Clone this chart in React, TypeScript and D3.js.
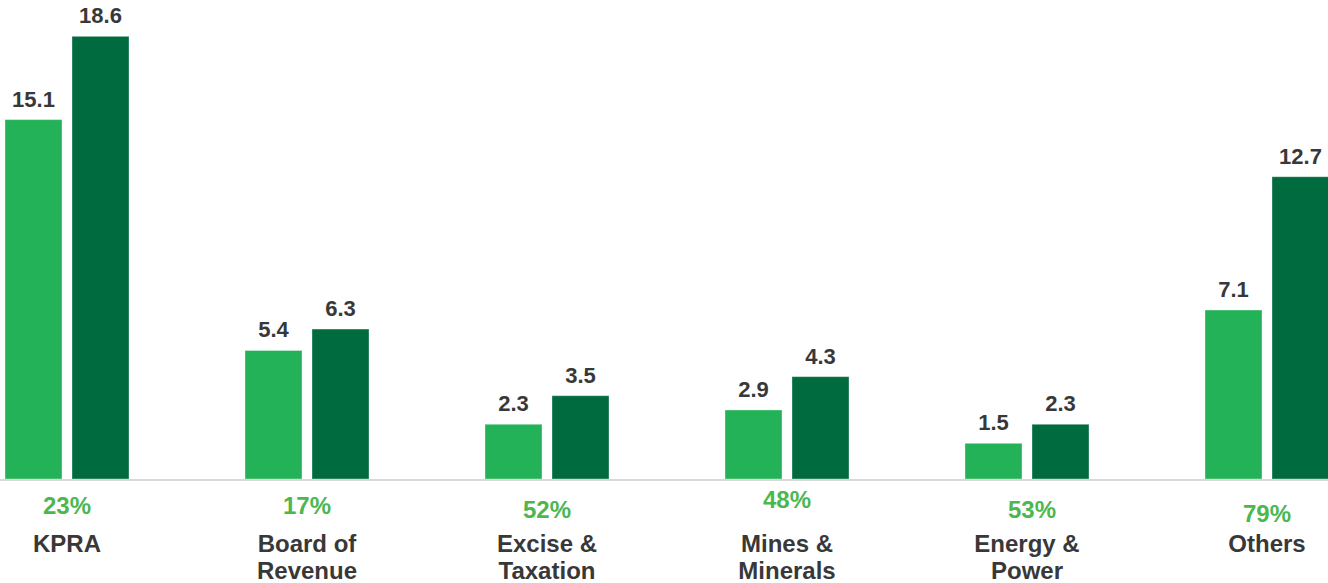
import React, { useEffect, useRef } from 'react'
import * as d3 from 'd3'

const categories = ['KPRA', 'Board of Revenue', 'Excise & Taxation', 'Mines & Minerals', 'Energy & Power', 'Others']
const seriesKeys = ['previous', 'current']
const previousValues = [15.1, 5.4, 2.3, 2.9, 1.5, 7.1]
const currentValues = [18.6, 6.3, 3.5, 4.3, 2.3, 12.7]
const growthLabels = ['23%', '17%', '52%', '48%', '53%', '79%']

// hand-placed offsets of the growth labels, as in the source slide
const growthBaseline = [514, 514, 518, 508, 518, 522]
const growthDx = [0, 0, 0, 0, 5, 0]

const colors: Record<string, string> = { previous: '#23B257', current: '#006B3F' }

const App: React.FC = () => {
  const ref = useRef<SVGSVGElement | null>(null)

  useEffect(() => {
    if (!ref.current) return
    const width = 1328
    const height = 583
    const baseline = 479

    const svg = d3
      .select(ref.current)
      .attr('width', width)
      .attr('height', height)
      .attr('viewBox', [0, 0, width, height])
      .style('font-family', '"Liberation Sans", Arial, sans-serif')
      .attr('text-anchor', 'middle')

    const x0 = d3.scalePoint<string>().domain(categories).range([67, 1267])
    const x1 = d3.scaleBand<string>().domain(seriesKeys).range([-62, 62]).paddingInner(0.149)
    const y = d3.scaleLinear().domain([0, 20]).range([baseline, 3])

    const rows = categories.map((c, i) => ({
      category: c,
      values: [
        { key: 'previous', value: previousValues[i] },
        { key: 'current', value: currentValues[i] },
      ],
    }))

    const group = svg
      .append('g')
      .selectAll('g')
      .data(rows)
      .join('g')
      .attr('transform', (d) => `translate(${x0(d.category)},0)`)

    group
      .selectAll('rect')
      .data((d) => d.values)
      .join('rect')
      .attr('x', (d) => x1(d.key)!)
      .attr('y', (d) => y(d.value))
      .attr('width', x1.bandwidth())
      .attr('height', (d) => baseline - y(d.value))
      .attr('fill', (d) => colors[d.key])
      .attr('stroke', 'rgba(255,255,255,0.35)')
      .attr('stroke-width', 1)

    group
      .selectAll('text.value')
      .data((d) => d.values)
      .join('text')
      .attr('class', 'value')
      .attr('x', (d) => x1(d.key)! + x1.bandwidth() / 2)
      .attr('y', (d) => y(d.value) - 13)
      .attr('fill', '#383838')
      .style('font-size', '22px')
      .style('font-weight', 'bold')
      .text((d) => d.value.toFixed(1))

    // axis baseline
    svg
      .append('line')
      .attr('x1', 0)
      .attr('x2', width)
      .attr('y1', baseline + 1)
      .attr('y2', baseline + 1)
      .attr('stroke', '#D9D9D9')
      .attr('stroke-width', 2)

    // growth percentages
    svg
      .append('g')
      .selectAll('text')
      .data(categories)
      .join('text')
      .attr('x', (d, i) => x0(d)! + growthDx[i])
      .attr('y', (_d, i) => growthBaseline[i])
      .attr('fill', '#4DB74F')
      .style('font-size', '24px')
      .style('font-weight', 'bold')
      .text((_d, i) => growthLabels[i])

    // category labels, split at the last space when long
    const lines = (name: string) => {
      if (name.length <= 8) return [name]
      const k = name.lastIndexOf(' ')
      return [name.slice(0, k), name.slice(k + 1)]
    }

    const label = svg
      .append('g')
      .selectAll('text')
      .data(categories)
      .join('text')
      .attr('fill', '#383838')
      .style('font-size', '24px')
      .style('font-weight', 'bold')

    label
      .selectAll('tspan')
      .data((d) => lines(d).map((t) => ({ t, c: d })))
      .join('tspan')
      .attr('x', (d) => x0(d.c)!)
      .attr('y', (_d, i) => 552 + i * 27)
      .text((d) => d.t)

    return () => {
      svg.selectAll('*').remove()
    }
  }, [])

  return <svg ref={ref} style={{ position: 'absolute', left: 0, top: 0 }} />
}

export default App
